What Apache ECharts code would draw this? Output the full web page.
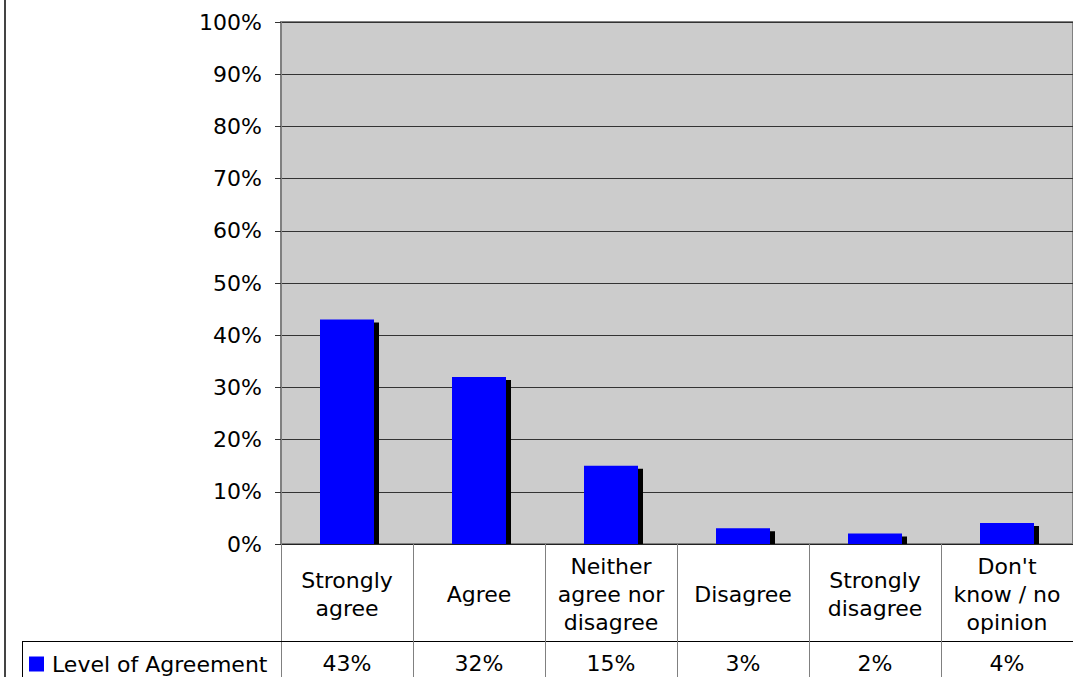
<!DOCTYPE html>
<html>
<head>
<meta charset="utf-8">
<script src="https://cdn.jsdelivr.net/npm/echarts@6/dist/echarts.min.js"></script>
<style>
html,body{margin:0;padding:0;background:#fff;}
#chart{width:1073px;height:677px;}
</style>
</head>
<body>
<div id="chart"></div>
<script>
const categories = ["Strongly\nagree", "Agree", "Neither\nagree nor\ndisagree", "Disagree", "Strongly\ndisagree", "Don't\nknow / no\nopinion"];
const values = [43, 32, 15, 3, 2, 4];
const seriesName = "Level of Agreement";
const yTicks = [0, 10, 20, 30, 40, 50, 60, 70, 80, 90, 100];

const FONT = "DejaVu Sans";
const chart = echarts.init(document.getElementById('chart'), null, {renderer: 'svg'});
chart.setOption({
  animation: false,
  textStyle: {fontFamily: FONT},
  grid: {left: 281, right: 0, top: 22, bottom: 133, show: true, backgroundColor: '#CCCCCC', borderColor: '#808080', borderWidth: 2},
  legend: {
    left: 29, top: 651, padding: 0, itemWidth: 15, itemHeight: 15, itemGap: 0,
    icon: 'rect',
    textStyle: {fontFamily: FONT, fontSize: 22, lineHeight: 26, color: '#000', padding: [0, 0, 0, 3]},
    data: [seriesName]
  },
  xAxis: [
    {
      type: 'category', data: categories, position: 'bottom', z: 10,
      axisLine: {show: true, lineStyle: {color: '#222', width: 1}},
      axisTick: {show: true, length: 97, lineStyle: {color: '#808080', width: 1}},
      axisLabel: {show: true, interval: 0, margin: 50, verticalAlign: 'middle', fontSize: 22, lineHeight: 28, color: '#000', fontFamily: FONT},
      splitLine: {show: false}
    },
    {
      type: 'category', data: categories, position: 'bottom', offset: 97, z: 10,
      axisLine: {show: true, lineStyle: {color: '#000', width: 1}},
      axisTick: {show: true, length: 40, lineStyle: {color: '#808080', width: 1}},
      axisLabel: {show: true, interval: 0, margin: 22, verticalAlign: 'middle', fontSize: 22, color: '#000', fontFamily: FONT,
        formatter: function (v, i) { return values[i] + '%'; }},
      splitLine: {show: false}
    }
  ],
  yAxis: {
    type: 'value', min: yTicks[0], max: yTicks[yTicks.length - 1], interval: 10,
    axisLine: {show: true, lineStyle: {color: '#808080', width: 2}},
    axisTick: {show: true, length: 6, lineStyle: {color: '#333'}},
    axisLabel: {margin: 19, fontSize: 22, color: '#000', fontFamily: FONT, formatter: '{value}%'},
    splitLine: {show: true, lineStyle: {color: '#333', width: 1}}
  },
  series: [{
    name: seriesName, type: 'bar', xAxisIndex: 0, data: values, barWidth: 54,
    itemStyle: {color: '#0000FF', shadowColor: '#000', shadowBlur: 0, shadowOffsetX: 5, shadowOffsetY: 3}
  }],
  graphic: [
    {type: 'rect', z: 5, shape: {x: 282, y: 545, width: 791, height: 4}, style: {fill: '#fff'}},
    {type: 'line', z: 20, shape: {x1: 5, y1: 0, x2: 5, y2: 677}, style: {stroke: '#444', lineWidth: 2}},
    {type: 'line', z: 20, shape: {x1: 22, y1: 641.5, x2: 282, y2: 641.5}, style: {stroke: '#000', lineWidth: 1}},
    {type: 'line', z: 20, shape: {x1: 22.5, y1: 641, x2: 22.5, y2: 677}, style: {stroke: '#000', lineWidth: 1}}
  ]
});
</script>
</body>
</html>
